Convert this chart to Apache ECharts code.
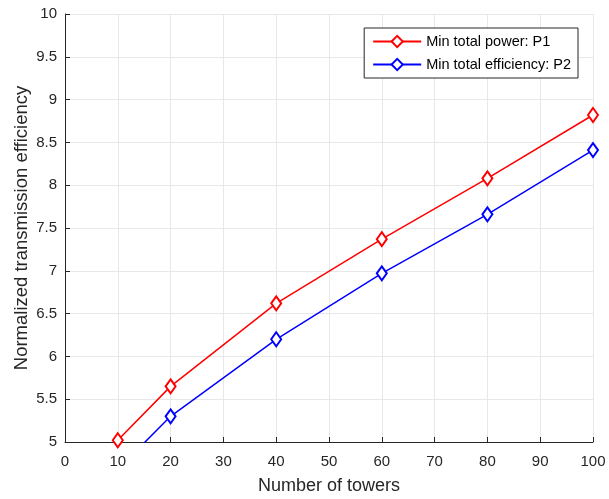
<!DOCTYPE html>
<html>
<head>
<meta charset="utf-8">
<script src="https://cdn.jsdelivr.net/npm/echarts@6/dist/echarts.min.js"></script>
<style>html,body{margin:0;padding:0;background:#fff;}#c{width:609px;height:499px;}</style>
</head>
<body>
<div id="c"></div>
<script>
const towers = [10, 20, 40, 60, 80, 100];
const p1Values = [5.02, 5.65, 6.62, 7.37, 8.08, 8.82];
const p2Values = [4.68, 5.30, 6.20, 6.97, 7.66, 8.41];
const seriesNames = ['Min total power: P1', 'Min total efficiency: P2'];
const xTicks = [0, 10, 20, 30, 40, 50, 60, 70, 80, 90, 100];
const yTicks = [5, 5.5, 6, 6.5, 7, 7.5, 8, 8.5, 9, 9.5, 10];

const font = 'Liberation Sans, Arial, sans-serif';
const dark = '#262626';
const chart = echarts.init(document.getElementById('c'), null, {renderer: 'canvas'});
function pairs(xs, ys) { return xs.map((x, i) => [x, ys[i]]); }
function mkSeries(name, vals, color) {
  return {
    name: name, type: 'line', data: pairs(towers, vals), clip: true,
    symbol: 'emptyDiamond', symbolSize: [10, 14],
    lineStyle: {color: color, width: 1.5},
    itemStyle: {color: color, borderColor: color, borderWidth: 1.5},
    emphasis: {disabled: true}, animation: false
  };
}
chart.setOption({
  backgroundColor: '#fff',
  animation: false,
  grid: {left: 65, right: 16, top: 14, bottom: 57, containLabel: false, outerBoundsMode: 'none'},
  legend: {
    right: 31, top: 28, orient: 'vertical',
    data: seriesNames,
    backgroundColor: '#fff', borderColor: dark, borderWidth: 1,
    padding: [6, 7, 6, 8], itemGap: 8, itemWidth: 48, itemHeight: 14,
    textStyle: {fontFamily: font, fontSize: 14.5, color: '#000'}
  },
  xAxis: {
    type: 'value', min: 0, max: 100, interval: 10,
    name: 'Number of towers', nameLocation: 'middle', nameGap: 35, nameMoveOverlap: false,
    nameTextStyle: {fontFamily: font, fontSize: 18, color: dark},
    axisLine: {lineStyle: {color: dark, width: 1}},
    axisTick: {inside: true, length: 5, lineStyle: {color: dark}},
    axisLabel: {fontFamily: font, fontSize: 15, color: dark, margin: 12},
    splitLine: {show: true, lineStyle: {color: '#e8e8e8', width: 1}}
  },
  yAxis: {
    type: 'value', min: 5, max: 10, interval: 0.5,
    name: 'Normalized transmission efficiency', nameLocation: 'middle', nameGap: 34, nameMoveOverlap: false,
    nameTextStyle: {fontFamily: font, fontSize: 18.5, color: dark},
    axisLine: {show: true, lineStyle: {color: dark, width: 1}},
    axisTick: {show: true, inside: true, length: 5, lineStyle: {color: dark}},
    axisLabel: {fontFamily: font, fontSize: 15, color: dark, margin: 8},
    splitLine: {show: true, lineStyle: {color: '#e8e8e8', width: 1}}
  },
  series: [mkSeries(seriesNames[0], p1Values, '#ff0000'), mkSeries(seriesNames[1], p2Values, '#0000ff')]
});
</script>
</body>
</html>
